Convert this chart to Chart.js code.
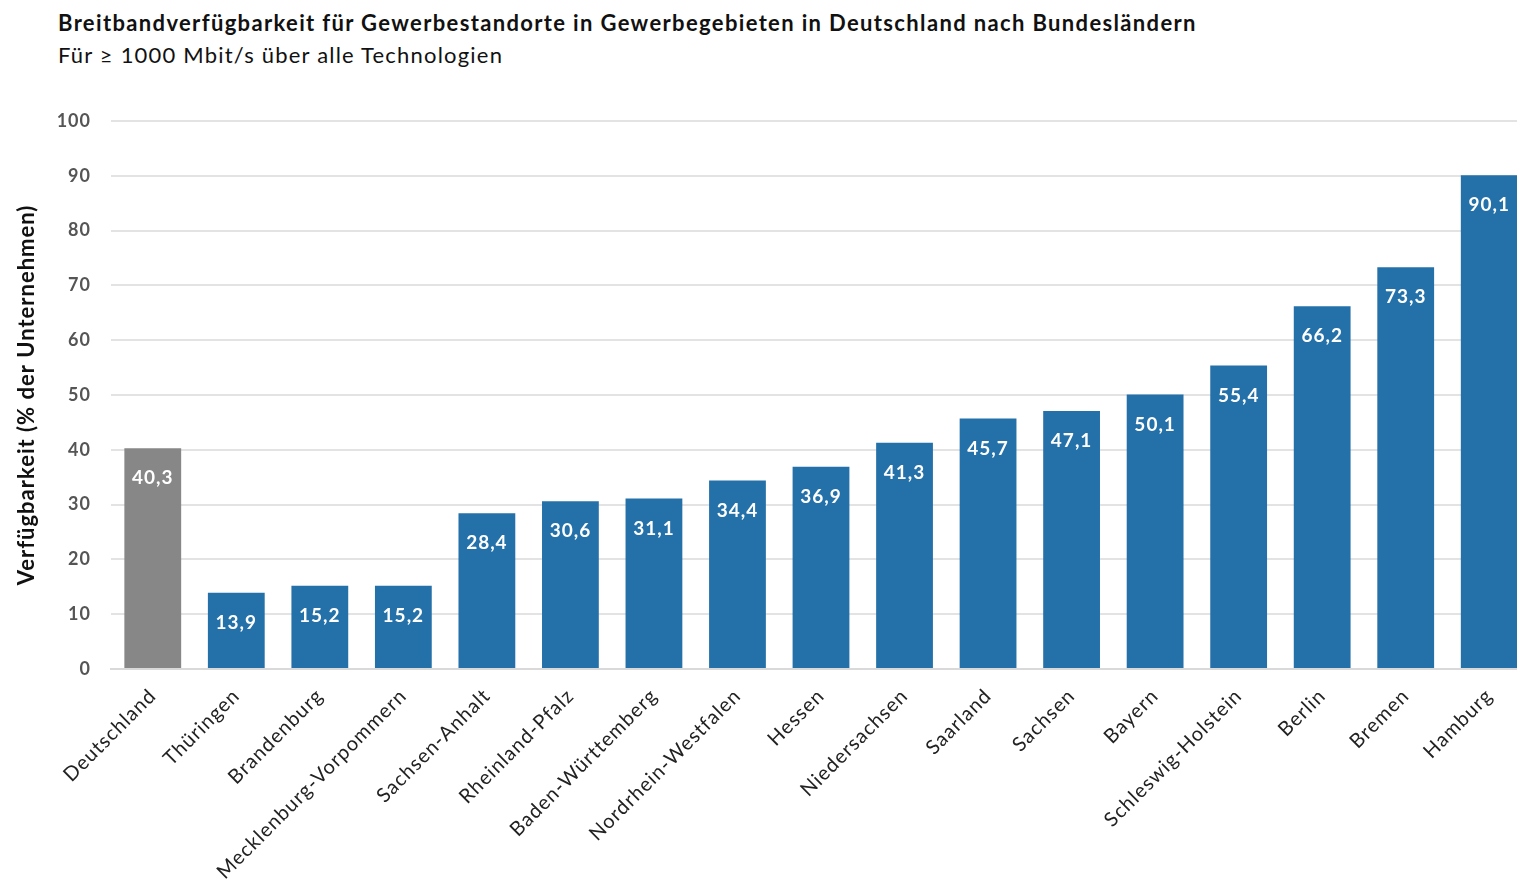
<!DOCTYPE html>
<html lang="de">
<head>
<meta charset="utf-8">
<script src="https://cdn.jsdelivr.net/npm/chart.js@4/dist/chart.umd.min.js"></script>
<style>
  html, body { margin: 0; padding: 0; background: #fff; overflow: hidden; width: 1517px; height: 882px; }
  .titel { position: absolute; left: 58px; font-family: Lato, "Open Sans", sans-serif; color: #111; white-space: nowrap; letter-spacing: 1.2px; }
  #t1 { top: 9px; font-size: 22px; font-weight: bold; letter-spacing: 1.35px; }
  #t2 { top: 41px; font-size: 22px; }
  #wrap { position: absolute; left: 0; top: 0; }
</style>
</head>
<body>
<div class="titel" id="t1">Breitbandverfügbarkeit für Gewerbestandorte in Gewerbegebieten in Deutschland nach Bundesländern</div>
<div class="titel" id="t2">Für ≥ 1000 Mbit/s über alle Technologien</div>
<div id="wrap"><canvas id="chart" width="1531" height="882"></canvas></div>
<script>
// Daten
const laender = ['Deutschland', 'Thüringen', 'Brandenburg', 'Mecklenburg-Vorpommern', 'Sachsen-Anhalt',
  'Rheinland-Pfalz', 'Baden-Württemberg', 'Nordrhein-Westfalen', 'Hessen', 'Niedersachsen',
  'Saarland', 'Sachsen', 'Bayern', 'Schleswig-Holstein', 'Berlin', 'Bremen', 'Hamburg'];
const verfuegbarkeit = [40.3, 13.9, 15.2, 15.2, 28.4, 30.6, 31.1, 34.4, 36.9, 41.3, 45.7, 47.1, 50.1, 55.4, 66.2, 73.3, 90.1];
const yTicks = [0, 10, 20, 30, 40, 50, 60, 70, 80, 90, 100];

const blau = '#2471aa';
const grau = '#878787';
const farben = laender.map(l => l === 'Deutschland' ? grau : blau);

// etwas breitere Schrift wie im Original (Calibri)
const abstandPlugin = {
  id: 'abstand',
  beforeDraw(chart) {
    chart.ctx.letterSpacing = '1px';
  }
};

// Werte in die Balken schreiben (deutsches Komma)
const wertePlugin = {
  id: 'werte',
  afterDatasetsDraw(chart) {
    const ctx = chart.ctx;
    const meta = chart.getDatasetMeta(0);
    ctx.save();
    ctx.font = 'bold 19px Lato, "Open Sans", sans-serif';
    ctx.fillStyle = '#ffffff';
    ctx.textAlign = 'center';
    ctx.textBaseline = 'middle';
    meta.data.forEach((bar, i) => {
      const txt = verfuegbarkeit[i].toFixed(1).replace('.', ',');
      ctx.fillText(txt, bar.x, bar.y + 30);
    });
    ctx.restore();
  }
};

const ctx = document.getElementById('chart').getContext('2d');

const chart = new Chart(ctx, {
  type: 'bar',
  data: {
    labels: laender,
    datasets: [{
      data: verfuegbarkeit,
      backgroundColor: farben,
      borderWidth: 0,
      barPercentage: 0.68,
      categoryPercentage: 1
    }]
  },
  options: {
    responsive: false,
    animation: false,
    layout: { padding: { top: 121, left: 0, right: 0, bottom: 0 } },
    plugins: {
      legend: { display: false },
      tooltip: { enabled: false }
    },
    scales: {
      x: {
        grid: { display: false },
        border: { color: '#d9d9d9', width: 2 },
        ticks: {
          color: '#222',
          font: { family: 'Lato, "Open Sans", sans-serif', size: 20 },
          minRotation: 45,
          maxRotation: 45,
          padding: 7,
          autoSkip: false
        },
        afterFit: s => { s.height = 213; }
      },
      y: {
        min: 0,
        max: 100,
        afterBuildTicks: s => { s.ticks = yTicks.map(v => ({ value: v })); },
        grid: { color: '#e3e3e3', lineWidth: 2, drawTicks: false },
        border: { display: false },
        ticks: {
          color: '#555',
          font: { family: 'Lato, "Open Sans", sans-serif', size: 18, weight: 'bold' },
          padding: 20
        },
        title: {
          display: true,
          text: 'Verfügbarkeit (% der Unternehmen)',
          color: '#111',
          font: { family: 'Lato, "Open Sans", sans-serif', size: 22, weight: 'bold' },
          padding: { top: 14, bottom: 0 }
        },
        afterFit: s => { s.width = 111; }
      }
    }
  },
  plugins: [abstandPlugin, wertePlugin]
});
</script>
</body>
</html>
